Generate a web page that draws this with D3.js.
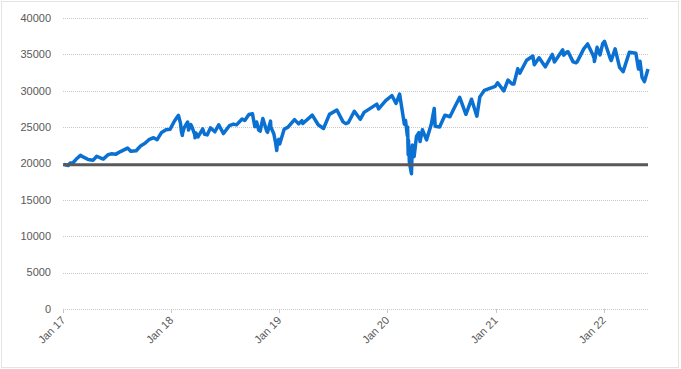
<!DOCTYPE html>
<html><head><meta charset="utf-8">
<script src="https://cdn.jsdelivr.net/npm/d3@7/dist/d3.min.js"></script>
<style>body{margin:0;background:#fff}svg{display:block}</style>
</head><body>
<script>
const dates = [
"2017-01-03","2017-01-19","2017-01-25","2017-02-03","2017-02-15","2017-03-01","2017-03-10","2017-03-27","2017-04-13","2017-04-25","2017-05-17","2017-06-02","2017-06-13","2017-06-29","2017-07-14","2017-08-07","2017-08-18","2017-09-05","2017-09-20","2017-10-05","2017-10-20","2017-11-03","2017-11-15","2017-11-30","2017-12-15","2017-12-29",
"2018-01-12","2018-01-26","2018-02-02","2018-02-05","2018-02-08","2018-02-09","2018-02-14","2018-02-26","2018-03-01","2018-03-09","2018-03-13","2018-03-22","2018-03-23","2018-03-26","2018-04-02","2018-04-06","2018-04-18","2018-04-24","2018-05-03","2018-05-14","2018-05-29","2018-06-11","2018-06-27","2018-07-17","2018-07-31","2018-08-10","2018-08-29","2018-09-07","2018-09-21","2018-10-03","2018-10-11","2018-10-17","2018-10-24","2018-10-29","2018-11-07","2018-11-20","2018-11-23","2018-12-03","2018-12-04","2018-12-14","2018-12-20","2018-12-24","2018-12-26","2018-12-31",
"2019-01-03","2019-01-18","2019-01-31","2019-02-22","2019-03-08","2019-03-19","2019-03-22","2019-04-23","2019-05-13","2019-05-31","2019-06-20","2019-07-15","2019-08-05","2019-08-14","2019-08-23","2019-09-12","2019-10-02","2019-10-15","2019-11-27","2019-12-03","2019-12-27",
"2020-01-17","2020-01-31","2020-02-12","2020-02-28","2020-03-03","2020-03-09","2020-03-10","2020-03-12","2020-03-13","2020-03-16","2020-03-23","2020-03-26","2020-04-01","2020-04-09","2020-04-17","2020-04-21","2020-04-29","2020-05-13","2020-05-29","2020-06-08","2020-06-11","2020-06-26","2020-07-14","2020-07-31","2020-08-17","2020-09-02","2020-09-23","2020-10-12","2020-10-30","2020-11-09","2020-11-24","2020-12-31",
"2021-01-08","2021-01-29","2021-02-12","2021-02-26","2021-03-04","2021-03-17","2021-03-24","2021-04-16","2021-05-07","2021-05-12","2021-05-28","2021-06-18","2021-07-06","2021-07-12","2021-07-19","2021-08-16","2021-08-19","2021-08-31","2021-09-03","2021-09-20","2021-09-30","2021-10-04","2021-10-26","2021-11-08","2021-11-26","2021-11-30","2021-12-01","2021-12-10","2021-12-20","2021-12-29",
"2022-01-04","2022-01-24","2022-01-27","2022-02-09","2022-02-24","2022-03-08","2022-03-29","2022-04-20","2022-04-29","2022-05-04","2022-05-11","2022-05-19","2022-05-31"];
const values = [
19881,19732,20069,20071,20611,21115,20903,20550,20453,20996,20606,21206,21329,21287,21638,22118,21675,21753,22412,22775,23329,23539,23271,24272,24652,24719,
25803,26617,25521,24346,23860,24190,24893,25709,24608,25335,25007,23958,23533,24202,23644,23933,24748,24024,23930,24899,24361,25322,24117,25199,25415,25313,26124,25917,26743,26828,25052,25706,24583,24443,26180,24466,24286,25826,25027,24100,22859,21792,22878,23327,
22686,24706,24999,26031,25450,25887,25502,26656,25324,24815,26753,27359,25718,25479,25628,27182,26078,27024,28164,27502,28645,
29348,28256,29551,25409,25917,23851,25018,21200,23185,20189,18592,22552,20943,23719,24242,23019,24634,23247,25383,27572,25128,25016,26642,26428,27844,29100,26763,28838,26502,29158,30046,30606,
31098,29983,31458,30932,30924,33015,32420,34200,34778,33587,34529,33290,34577,34996,33962,35625,34894,35361,35369,33970,33844,34002,35757,36432,34899,34484,34022,35971,34932,36488,
36800,34365,34160,35768,33223,32632,35295,35160,32977,34061,31834,31253,32990];
const baseline = 19827;
const yTicks = [0,5000,10000,15000,20000,25000,30000,35000,40000];
const xTickLabels = ["Jan 17","Jan 18","Jan 19","Jan 20","Jan 21","Jan 22"];
const xTickDates = ["2017-01-01","2018-01-01","2019-01-01","2020-01-01","2021-01-01","2022-01-01"];

const W=681,H=369;
const parse=d3.utcParse("%Y-%m-%d");
const data=dates.map((d,i)=>({d:parse(d),v:values[i]}));
const svg=d3.select("body").append("svg").attr("width",W).attr("height",H);
svg.append("rect").attr("x",1.5).attr("y",1.5).attr("width",W-4).attr("height",H-3)
  .attr("fill","none").attr("stroke","#c8c8c8").attr("stroke-dasharray","1,1");
const x=d3.scaleUtc().domain([parse("2017-01-01"),parse("2022-05-31")]).range([63,648]);
const y=d3.scaleLinear().domain([0,40000]).range([309,18]);
const font="'Liberation Sans', Arial, sans-serif";
svg.append("g").selectAll("line").data(yTicks).join("line")
  .attr("x1",63).attr("x2",648).attr("y1",d=>Math.round(y(d))+0.5).attr("y2",d=>Math.round(y(d))+0.5)
  .attr("stroke","#c8c8c8").attr("stroke-dasharray","1,1");
svg.append("g").selectAll("text").data(yTicks).join("text")
  .attr("x",51).attr("y",d=>y(d)).attr("dy","0.35em").attr("text-anchor","end")
  .attr("font-family",font).attr("font-size",11).attr("fill","#595959").text(d=>d);
const xt=xTickDates.map(parse);
svg.append("g").selectAll("line").data(xt).join("line")
  .attr("x1",d=>Math.round(x(d))+0.5).attr("x2",d=>Math.round(x(d))+0.5).attr("y1",309).attr("y2",313)
  .attr("stroke","#c8c8c8");
svg.append("g").selectAll("text").data(xt).join("text")
  .attr("transform",d=>`translate(${x(d)+3},${321}) rotate(-45)`)
  .attr("text-anchor","end").attr("font-family",font).attr("font-size",11).attr("fill","#595959")
  .text((d,i)=>xTickLabels[i]);
svg.append("path").datum(data).attr("fill","none").attr("stroke","#0a70d2").attr("stroke-width",3.5)
  .attr("stroke-linejoin","round")
  .attr("d",d3.line().x(d=>x(d.d)).y(d=>y(d.v)));
svg.append("line").attr("x1",63).attr("x2",648).attr("y1",y(baseline)).attr("y2",y(baseline))
  .attr("stroke","#595959").attr("stroke-width",3);
</script>
</body></html>
